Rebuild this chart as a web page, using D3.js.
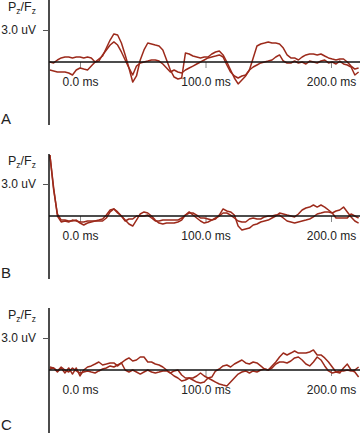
<!DOCTYPE html>
<html><head><meta charset="utf-8">
<script src="https://cdn.jsdelivr.net/npm/d3@7"></script>
<style>html,body{margin:0;padding:0;background:#fff;}svg{display:block;}</style>
</head><body>
<script>
// sampling times (ms)
const times = [-24,-21,-18,-15,-12,-9,-6,-3,0,3,6,9,12,15,18,21,24,27,30,33,36,39,42,45,48,51,54,57,60,63,66,69,72,75,78,81,84,87,90,93,96,99,102,105,108,111,114,117,120,123,126,129,132,135,138,141,144,147,150,153,156,159,162,165,168,171,174,177,180,183,186,189,192,195,198,201,204,207,210,213,216,219,222];
const panels = ["A","B","C"];
const xTicks = [0, 100, 200];
const xTickLabels = ["0.0 ms","100.0 ms","200.0 ms"];
const yTick = 3.0;
const yTickLabel = "3.0 uV";

// Panel A (uV)
const a1 = [0,-0.09,0.19,0.38,0.47,0.47,0.38,0.47,0.47,0.38,0.47,0.38,0,0.09,0.66,1.13,1.59,1.88,1.59,0.94,0.19,-0.56,-1.22,-0.38,-0.09,0,0.09,0.19,0.19,0.09,-0.19,-0.56,-0.94,-0.75,-0.94,-1.03,-0.75,-0.56,-0.38,-0.19,0,0.19,0.38,0.47,0.56,0.66,0.47,-0.28,-0.94,-1.31,-1.5,-1.31,-1.22,-0.75,-0.47,-0.28,-0.09,0,0.09,0.19,0.47,0.66,0.09,-0.09,-0.09,0.09,-0.09,0,-0.19,0.09,0,-0.09,0.09,0.19,-0.09,0,-0.19,0.09,-0.19,-0.28,-0.47,-1.22,-0.94];
const a2 = [-0.75,-0.84,-0.94,-0.94,-0.94,-1.03,-1.22,-0.75,-0.56,-0.66,-0.75,-0.38,0,0.28,0.56,1.31,2.06,2.63,2.53,1.78,0.66,-0.56,-1.88,-1.31,0.19,1.13,1.78,1.69,1.59,1.5,1.13,0.19,-0.75,-1.41,-1.59,-1.5,0.84,0.75,0.56,0.47,0.38,0.47,0.47,0.75,0.94,1.03,0.66,0,-0.75,-1.5,-2.06,-1.69,-1.31,-0.75,0.38,1.5,1.69,1.78,1.88,1.78,1.78,1.69,1.31,0.66,0.38,0.38,0.19,0.47,0.66,0.75,0.75,0.66,0.75,0.56,0.38,0.28,0.19,0.28,0.28,0,-0.38,-0.66,-0.56];
// Panel B (uV)
const b1 = [5.72,2.44,0.19,-0.38,-0.38,-0.47,-0.47,-0.38,-0.66,-0.84,-0.66,-0.56,-0.47,-0.47,-0.47,-0.19,0.38,0.66,0.38,0,-0.38,-0.75,-0.94,-0.38,0.19,0.38,0.28,0,-0.38,-0.66,-0.75,-0.66,-0.66,-0.66,-0.56,-0.38,0.09,0.38,0.09,-0.19,-0.47,-0.66,-0.56,-0.38,-0.28,0.09,0.66,0.47,0.38,0.09,-0.94,-1.31,-1.22,-1.13,-0.84,-0.75,-0.56,-0.47,-0.38,-0.19,0,0.28,0.19,0.09,0,-0.09,0.19,0.56,0.75,0.84,1.03,0.84,1.03,0.84,0.56,0.28,-0.19,-0.19,-0.19,-0.19,0.19,0,-0.19];
const b2 = [5.72,2.63,0,-0.56,-0.47,-0.56,-0.38,-0.47,-0.56,-0.56,-0.47,-0.47,-0.47,-0.38,-0.28,0.09,0.56,0.66,0.28,0,-0.47,-0.28,-0.28,0,0,0,0.09,-0.19,-0.47,-0.47,-0.38,-0.38,-0.38,-0.38,-0.38,-0.19,0.09,0.28,0.28,0.09,-0.19,-0.19,-0.28,-0.38,-0.19,0,0.28,0.28,0.09,-0.19,-0.47,-0.56,-0.56,-0.28,-0.19,-0.28,-0.28,-0.09,0,0,0.09,0.09,-0.19,-0.47,-0.56,-0.66,-0.56,-0.47,-0.38,-0.28,-0.09,0.19,0.28,0.38,0.38,0.28,0.47,0.56,0.84,0.38,-0.09,-0.47,-0.66];
// Panel C (uV)
const c1 = [0.28,0.19,-0.19,0.19,-0.28,0.19,-0.38,0.19,-0.56,0,0.28,0.38,0.56,0.75,0.47,0.56,0.66,0.66,0.38,0.66,0.94,1.13,0.84,0.94,1.22,1.22,0.75,0.75,0.56,0.47,0.28,0,-0.28,-0.56,-0.75,-1.03,-0.94,-0.75,-0.75,-0.56,-0.28,-0.56,-0.75,-0.94,-1.13,-1.31,-1.41,-1.5,-1.13,-0.75,-0.38,-0.19,-0.09,-0.28,-0.09,-0.19,0,0.09,0,0.38,0.75,1.22,1.59,1.41,1.59,1.78,1.59,1.59,1.59,1.69,1.88,1.41,1.41,1.13,0.75,0.28,-0.19,-0.28,0.19,0.56,0,-0.19,-0.66];
const c2 = [0.09,0.19,-0.09,0.28,0,-0.19,0.19,-0.09,-0.28,-0.19,-0.09,-0.19,-0.28,-0.09,0.09,0.19,0.38,0.28,0.47,0.66,0,-0.19,0,-0.19,-0.38,-0.19,0,-0.19,-0.28,-0.19,-0.09,-0.09,-0.28,-0.09,0,-0.47,-0.75,-0.75,-0.94,-1.13,-1.22,-1.13,-0.75,-0.66,-0.09,0.09,0.38,0.47,0.28,0.56,0.75,0.94,0.66,0.56,0.75,0.66,0.38,0.09,0,0.19,0.56,0.75,0.75,0.66,0.84,1.13,1.22,0.94,0.56,0.38,0.75,1.22,0.94,0.38,-0.09,-0.28,-0.19,-0.09,-0.09,0,-0.09,0,0.28];

const series = {A:[a1,a2], B:[b1,b2], C:[c1,c2]};

const W = 360, H = 434;
const svg = d3.select("body").append("svg").attr("width", W).attr("height", H);
const font = "'Liberation Sans', Arial, Helvetica, sans-serif";
const traceColor = "#9c2a1b";
const axisX = 49;

const x = d3.scaleLinear().domain([0, 200]).range([80, 331]);

panels.forEach((p, i) => {
  const z0 = 62 + i * 154;
  const y = d3.scaleLinear().domain([0, yTick]).range([z0, z0 - 32]);
  const g = svg.append("g");

  // x ticks
  const xAxis = d3.axisBottom(x).tickValues(xTicks).tickSize(6).tickFormat((d, k) => xTickLabels[k]).tickPadding(9);
  const xa = g.append("g").attr("transform", `translate(0,${y(0)})`).call(xAxis);
  xa.select(".domain").remove();
  xa.selectAll(".tick line").attr("stroke", "#888").attr("stroke-width", 1);
  xa.selectAll(".tick text").attr("font-family", font).attr("font-size", 12).attr("fill", "#222");

  // traces
  const line = d3.line().x((d, k) => x(times[k])).y(d => y(d));
  series[p].forEach(s => {
    g.append("path").datum(s).attr("d", line).attr("fill", "none")
      .attr("stroke", traceColor).attr("stroke-width", 1.5).attr("stroke-linejoin", "round");
  });

  // horizontal baseline (on top of traces)
  g.append("line").attr("x1", axisX).attr("x2", W).attr("y1", y(0)).attr("y2", y(0))
    .attr("stroke", "#111").attr("stroke-width", 1.4);

  // vertical axis
  g.append("line").attr("x1", axisX).attr("x2", axisX).attr("y1", z0 - 62).attr("y2", z0 + 63)
    .attr("stroke", "#111").attr("stroke-width", 1.5);
  // y tick
  const yAxis = d3.axisLeft(y).tickValues([yTick]).tickSize(6).tickPadding(7).tickFormat(() => yTickLabel);
  const ya = g.append("g").attr("transform", `translate(${axisX},0)`).call(yAxis);
  ya.select(".domain").remove();
  ya.selectAll(".tick line").attr("stroke", "#555").attr("stroke-width", 1);
  ya.selectAll(".tick text").attr("font-family", font).attr("font-size", 12).attr("fill", "#222");

  // Pz/Fz label
  const t = g.append("text").attr("x", 8).attr("y", z0 - 51).attr("font-family", font)
    .attr("font-size", 12.5).attr("fill", "#222");
  t.append("tspan").text("P");
  t.append("tspan").attr("font-size", 8.5).attr("dy", 3).text("z");
  t.append("tspan").attr("dy", -3).text("/F");
  t.append("tspan").attr("font-size", 8.5).attr("dy", 3).text("z");

  // panel letter
  g.append("text").attr("x", 1).attr("y", Math.min(z0 + 62, H - 4)).attr("font-family", font)
    .attr("font-size", 15).attr("fill", "#222").text(p);
});
</script>
</body></html>
